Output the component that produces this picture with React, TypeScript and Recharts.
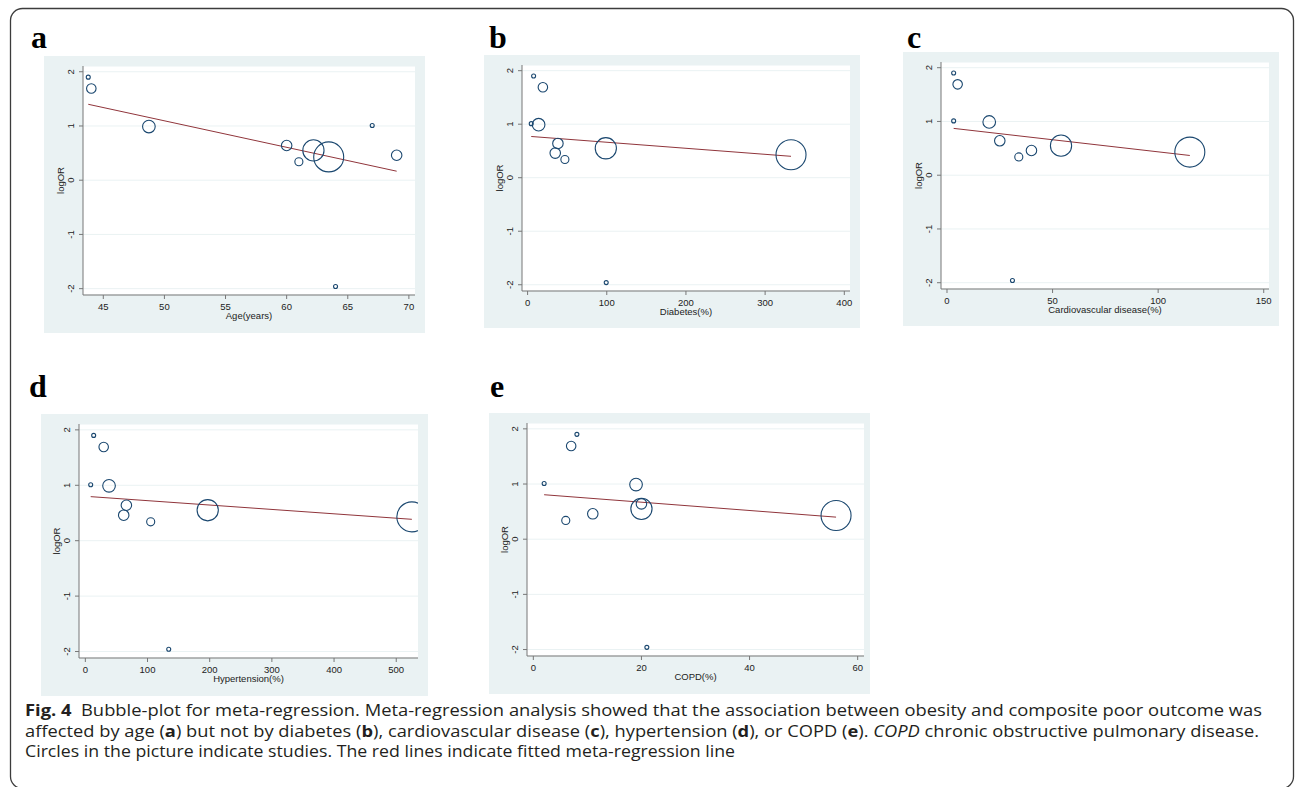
import React from 'react';
import { ScatterChart, Scatter, XAxis, YAxis, ZAxis, CartesianGrid, ReferenceLine } from 'recharts';

// ---- data (10 studies, same order in every panel) ----
const logOR = [1.9, 1.69, 1.01, 0.99, 0.64, 0.46, 0.34, 0.55, 0.43, -1.96];
const studyWeight = [1.6, 9, 1.6, 16, 11, 11, 6.5, 45, 90, 1.6];

const age = [43.77, 44.02, 67.0, 48.73, 60.0, 69.0, 61.0, 62.19, 63.44, 64.0];
const diabetes = [7.6, 19.3, 4.6, 13.9, 38.3, 34.9, 47.1, 98.8, 332.7, 99.3];
const cvd = [3.15, 5.04, 3.15, 20.0, 25.0, 40.0, 34.0, 54.0, 115.0, 31.0];
const hypertension = [13.4, 29.5, 8.6, 38.1, 66.0, 61.7, 105.1, 196.8, 525.1, 134.1];
const copd = [8.06, 7.0, 2.0, 19.0, 20.0, 11.0, 6.0, 20.0, 56.0, 21.0];

// fitted meta-regression lines: [x1, y1, x2, y2]
const fitAge = [43.77, 1.4, 69.0, 0.166];
const fitDiabetes = [4.6, 0.77, 332.7, 0.4];
const fitCvd = [3.15, 0.871, 115.0, 0.367];
const fitHypertension = [8.6, 0.795, 525.1, 0.386];
const fitCopd = [2.0, 0.806, 56.0, 0.4];

const yTicks = [-2, -1, 0, 1, 2];
const ageTicks = [45, 50, 55, 60, 65, 70];
const diabetesTicks = [0, 100, 200, 300, 400];
const cvdTicks = [0, 50, 100, 150];
const hypertensionTicks = [0, 100, 200, 300, 400, 500];
const copdTicks = [0, 20, 40, 60];

const panelLetters = ['a', 'b', 'c', 'd', 'e'];
const xTitles = ['Age(years)', 'Diabetes(%)', 'Cardiovascular disease(%)', 'Hypertension(%)', 'COPD(%)'];
const yTitle = 'logOR';

// ---- styles ----
const BG = '#EAF2F3';
const NAVY = '#1A476F';
const MAROON = '#90353B';
const AXIS = '#777777';
const TXT = '#222222';
const SANS = '"Liberation Sans", Arial, sans-serif';
const Y_DOMAIN: [number, number] = [-2.117, 2.106];

type PanelProps = {
  left: number; top: number; width: number; height: number;
  yAxisWidth: number; xAxisHeight: number; marginRight: number;
  xDomain: [number, number]; xTicks: number[]; xValues: number[];
  fit: number[]; xTitle: string;
};

const YTick = (props: any) => {
  const { x, y, payload } = props;
  return (
    <text transform={`translate(${x},${y}) rotate(-90)`} textAnchor="middle" fontSize={9.5} fill={TXT} fontFamily={SANS}>
      {String(payload.value)}
    </text>
  );
};

const XTick = (props: any) => {
  const { x, y, payload } = props;
  return (
    <text x={x} y={y} textAnchor="middle" fontSize={9.5} fill={TXT} fontFamily={SANS}>
      {String(payload.value)}
    </text>
  );
};

function Panel(p: PanelProps) {
  const data = p.xValues.map((v, i) => ({ x: v, y: logOR[i], w: studyWeight[i] }));
  const plotLeft = p.yAxisWidth;
  const plotTop = 10;
  const plotBottom = p.height - p.xAxisHeight;
  const plotRight = p.width - p.marginRight;
  const yTitleContent = () => (
    <text transform={`translate(${plotLeft - 19},${(plotTop + plotBottom) / 2}) rotate(-90)`} textAnchor="middle" fontSize={9.5} fill={TXT} fontFamily={SANS}>
      {yTitle}
    </text>
  );
  const xTitleContent = () => (
    <text x={(plotLeft + plotRight) / 2} y={plotBottom + 23.5} textAnchor="middle" fontSize={9.5} fill={TXT} fontFamily={SANS}>
      {p.xTitle}
    </text>
  );
  return (
    <div style={{ position: 'absolute', left: p.left, top: p.top, width: p.width, height: p.height, background: BG }}>
      <ScatterChart width={p.width} height={p.height} margin={{ top: plotTop, right: p.marginRight, left: 0, bottom: 0 }}>
        <CartesianGrid vertical={false} stroke={BG} strokeWidth={1} fill="#ffffff" />
        <XAxis
          type="number" dataKey="x" domain={p.xDomain} ticks={p.xTicks} interval={0} allowDataOverflow
          height={p.xAxisHeight} tickSize={4} tickMargin={11}
          axisLine={{ stroke: AXIS }} tickLine={{ stroke: AXIS }} tick={XTick}
          label={{ content: xTitleContent }}
        />
        <YAxis
          type="number" dataKey="y" domain={Y_DOMAIN} ticks={yTicks} interval={0} allowDataOverflow
          width={p.yAxisWidth} tickSize={4} tickMargin={5}
          axisLine={{ stroke: AXIS }} tickLine={{ stroke: AXIS }} tick={YTick}
          label={{ content: yTitleContent }}
        />
        <ZAxis type="number" dataKey="w" domain={[0, 90]} range={[0, 707]} />
        <ReferenceLine
          segment={[{ x: p.fit[0], y: p.fit[1] }, { x: p.fit[2], y: p.fit[3] }]}
          stroke={MAROON} strokeWidth={1} ifOverflow="visible"
        />
        <Scatter data={data} fill="none" stroke={NAVY} strokeWidth={1.1} isAnimationActive={false} />
      </ScatterChart>
    </div>
  );
}

const letterPos = [
  { x: 31, y: 48 }, { x: 489, y: 48 }, { x: 907, y: 47.5 }, { x: 29, y: 396.5 }, { x: 490, y: 396.5 },
];

export default function App() {
  const capFont = '"Open Sans", "Noto Sans", sans-serif';
  return (
    <div style={{ position: 'absolute', left: 0, top: 0, width: 1295, height: 787, background: '#fff', overflow: 'hidden' }}>
      <svg width={1295} height={787} style={{ position: 'absolute', left: 0, top: 0 }}>
        <rect x={10.5} y={8.5} width={1283} height={780} rx={12} ry={12} fill="none" stroke="#3c3c3c" strokeWidth={1.3} />
        {panelLetters.map((l, i) => (
          <text key={l} x={letterPos[i].x} y={letterPos[i].y} fontFamily='"Liberation Serif", "Times New Roman", serif' fontWeight="bold" fontSize={32} fill="#000">
            {l}
          </text>
        ))}
        <g fontFamily={capFont} fontSize={15.5} fill="#231F20">
          <text x={25} y={716} textLength={1237} lengthAdjust="spacingAndGlyphs">
            <tspan fontWeight="bold">Fig. 4</tspan>
            <tspan dx={8}>Bubble-plot for meta-regression. Meta-regression analysis showed that the association between obesity and composite poor outcome was</tspan>
          </text>
          <text x={25} y={736.5} textLength={1234} lengthAdjust="spacingAndGlyphs">
            <tspan>affected by age (</tspan><tspan fontWeight="bold">a</tspan>
            <tspan>) but not by diabetes (</tspan><tspan fontWeight="bold">b</tspan>
            <tspan>), cardiovascular disease (</tspan><tspan fontWeight="bold">c</tspan>
            <tspan>), hypertension (</tspan><tspan fontWeight="bold">d</tspan>
            <tspan>), or COPD (</tspan><tspan fontWeight="bold">e</tspan>
            <tspan>). </tspan><tspan fontStyle="italic">COPD</tspan>
            <tspan> chronic obstructive pulmonary disease.</tspan>
          </text>
          <text x={25} y={757} textLength={710} lengthAdjust="spacingAndGlyphs">
            Circles in the picture indicate studies. The red lines indicate fitted meta-regression line
          </text>
        </g>
      </svg>
      <Panel left={44} top={56} width={381} height={277} yAxisWidth={39} xAxisHeight={38} marginRight={10}
        xDomain={[43.34, 70.5]} xTicks={ageTicks} xValues={age} fit={fitAge} xTitle={xTitles[0]} />
      <Panel left={484} top={55} width={376} height={273} yAxisWidth={38} xAxisHeight={37} marginRight={10}
        xDomain={[-7.07, 407.2]} xTicks={diabetesTicks} xValues={diabetes} fit={fitDiabetes} xTitle={xTitles[1]} />
      <Panel left={903} top={52} width={376} height={274} yAxisWidth={38} xAxisHeight={37} marginRight={10}
        xDomain={[-2.84, 152.5]} xTicks={cvdTicks} xValues={cvd} fit={fitCvd} xTitle={xTitles[2]} />
      <Panel left={41} top={414} width={387} height={282} yAxisWidth={38} xAxisHeight={38} marginRight={10}
        xDomain={[-10.2, 535]} xTicks={hypertensionTicks} xValues={hypertension} fit={fitHypertension} xTitle={xTitles[3]} />
      <Panel left={489} top={413} width={381} height={281} yAxisWidth={38} xAxisHeight={38} marginRight={6}
        xDomain={[-1.17, 61.17]} xTicks={copdTicks} xValues={copd} fit={fitCopd} xTitle={xTitles[4]} />
    </div>
  );
}
